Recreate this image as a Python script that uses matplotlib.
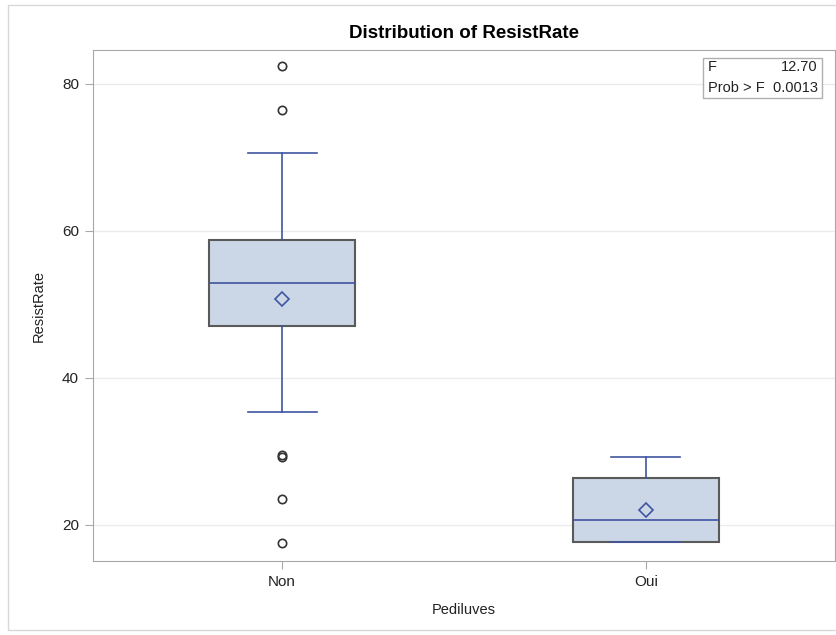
import matplotlib.pyplot as plt
from matplotlib.patches import Rectangle

plt.rcParams['font.family'] = ['Liberation Sans', 'DejaVu Sans']

# box plot summary for ResistRate by Pediluves
groups = ['Non', 'Oui']
q1 = [47.1, 17.7]
med = [52.9, 20.7]
q3 = [58.8, 26.4]
whislo = [35.4, 17.7]
whishi = [70.6, 29.25]
means = [50.8, 22.0]
outliers = [[82.4, 76.5, 29.3, 29.45, 23.5, 17.6], []]
f_value = 12.70
p_value = 0.0013

box_fill = '#cbd6e6'
edge = '#5a5a5a'
blue = '#3f55a0'

stats = []
for i, g in enumerate(groups):
    stats.append(dict(label=g, q1=q1[i], med=med[i], q3=q3[i], whislo=whislo[i],
                      whishi=whishi[i], mean=means[i], fliers=outliers[i]))

fig = plt.figure(figsize=(8.37, 6.35), dpi=100)
ax = fig.add_axes([93 / 837, 1 - 561 / 635, 742 / 837, 511 / 635])

ax.bxp(stats, positions=[0, 1], widths=0.40, patch_artist=True, showmeans=True,
       boxprops=dict(facecolor=box_fill, edgecolor=edge, linewidth=1.5),
       medianprops=dict(color=blue, linewidth=1.2),
       whiskerprops=dict(color=blue, linewidth=1.2),
       capprops=dict(color=blue, linewidth=1.2, zorder=4),
       capwidths=0.19,
       meanprops=dict(marker='D', markersize=7, markerfacecolor='none',
                      markeredgecolor=blue, markeredgewidth=1.2),
       flierprops=dict(marker='o', markersize=6, markerfacecolor='none',
                       markeredgecolor='#333333', markeredgewidth=1.2))

ax.set_xlim(-0.52, 1.52)
ax.set_ylim(15.1, 84.6)
ax.set_yticks([20, 40, 60, 80])
ax.yaxis.grid(True, color='#ebebeb', linewidth=1)
ax.set_axisbelow(True)
for s in ax.spines.values():
    s.set_color('#a8a8a8')
ax.tick_params(colors='#a8a8a8', labelcolor='#222222', labelsize=11, length=6, pad=4)

ax.set_xlabel('Pediluves', fontsize=10.5, color='#222222', labelpad=10)
ax.set_ylabel('ResistRate', fontsize=10.5, color='#222222', labelpad=12)
ax.set_title('Distribution of ResistRate', fontsize=13.5, fontweight='bold', pad=9)

# F test inset
ax.add_patch(Rectangle((0.822, 0.906), 0.1605, 0.078, transform=ax.transAxes,
                       facecolor='white', edgecolor='#b0b0b0', linewidth=1, zorder=5))
ax.text(0.829, 0.967, 'F', transform=ax.transAxes, ha='left', va='center',
        fontsize=10.5, color='#222222', zorder=6)
ax.text(0.977, 0.967, f'{f_value:.2f}', transform=ax.transAxes, ha='right',
        va='center', fontsize=10.5, color='#222222', zorder=6)
ax.text(0.829, 0.926, f'Prob > F  {p_value:.4f}', transform=ax.transAxes,
        ha='left', va='center', fontsize=10.5, color='#222222', zorder=6)

# outer frame
fig.patches.append(Rectangle((8 / 837, 5 / 635), 830 / 837, 625 / 635,
                             transform=fig.transFigure, fill=False,
                             edgecolor='#d8d8d8', linewidth=1))

fig.savefig('out.png', dpi=100)
